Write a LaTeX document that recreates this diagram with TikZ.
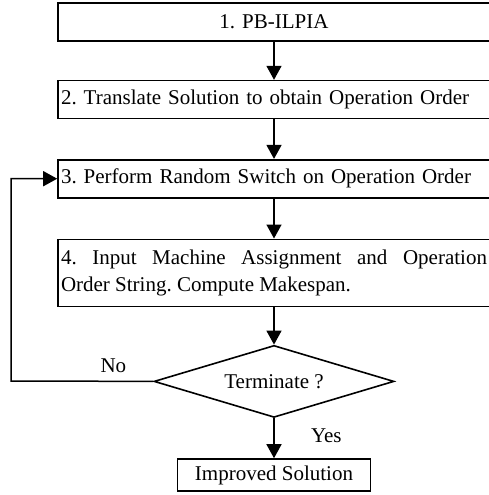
\documentclass[tikz,border=0pt]{standalone}
\usepackage{fontspec}
\setmainfont{Liberation Serif}
\usetikzlibrary{arrows.meta,positioning,shapes.geometric}
\frenchspacing
\tikzset{
  proc/.style={rectangle, draw, line width=1.6pt, inner xsep=3pt,
               text width=426pt, minimum height=38pt},
  decision/.style={diamond, draw, line width=1.6pt, inner sep=0pt, aspect=3.3,
                   minimum width=240pt, minimum height=72pt},
  arr/.style={-{Triangle[length=14pt,width=15pt]}, line width=1.5pt},
}

\begin{document}
\begin{tikzpicture}[x=1pt, y=-1pt, node distance=38pt,
    every node/.style={font=\fontsize{21}{27}\selectfont}]
  \useasboundingbox (0,0) rectangle (488,495);
  \node[proc, align=center] (a) at (274,22) {1. PB-ILPIA};
  \node[proc, align=left, below=of a] (b)
    {2. Translate Solution to obtain Operation Order};
  \node[proc, align=left, below=39.5pt of b] (c)
    {3. Perform Random Switch on Operation Order};
  \node[proc, align=justify, minimum height=67pt, below=40pt of c] (d)
    {4. Input Machine Assignment and Operation\linebreak Order String. Compute Makespan.};
  \node[decision, below=37.5pt of d] (t) {Terminate ?};
  \node[rectangle, draw, line width=1.6pt, minimum width=193pt,
        minimum height=32pt, below=40pt of t] (s) {Improved Solution};
  \coordinate (coin) at (11,381);
  \draw[arr] (a) -- (b); \draw[arr] (b) -- (c); \draw[arr] (c) -- (d);
  \draw[arr] (d) -- (t);
  \draw[arr] (t) -- node[right=33pt, pos=0.45] {Yes} (s);
  \draw[arr] (t.west) -- node[above=5pt, pos=0.28] {No} (coin) |- (c.west);
\end{tikzpicture}
\end{document}
